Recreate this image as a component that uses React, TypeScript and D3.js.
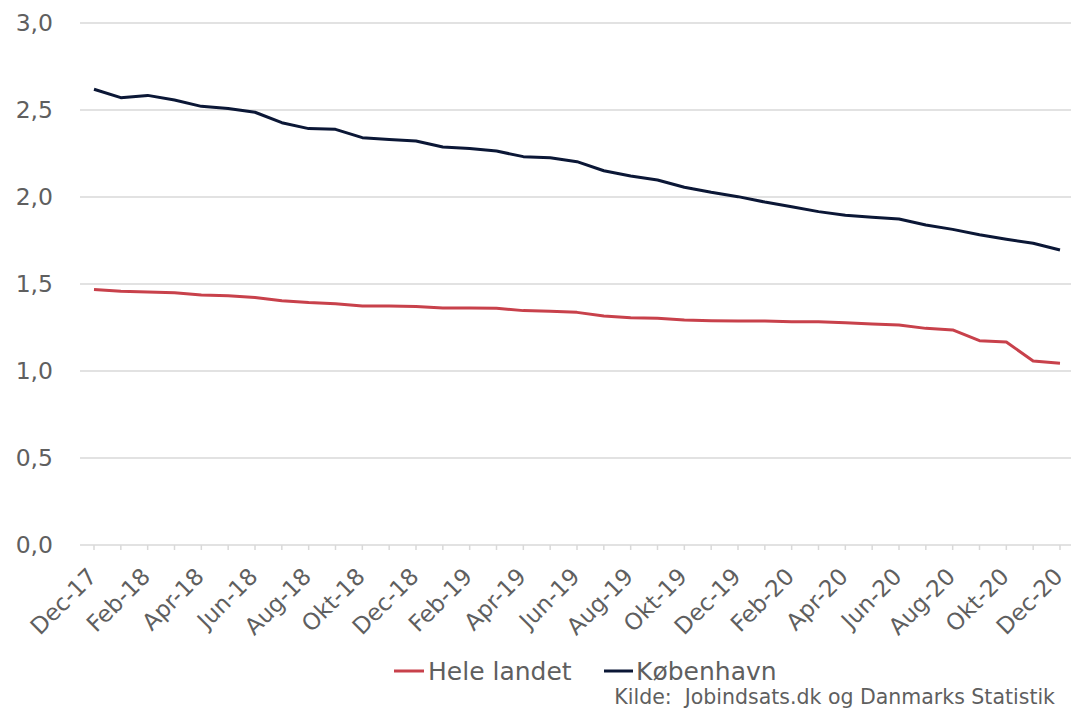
import * as d3 from 'd3';

const months = [
  'Dec-17', 'Jan-18', 'Feb-18', 'Mar-18', 'Apr-18', 'Maj-18', 'Jun-18', 'Jul-18', 'Aug-18', 'Sep-18', 'Okt-18', 'Nov-18',
  'Dec-18', 'Jan-19', 'Feb-19', 'Mar-19', 'Apr-19', 'Maj-19', 'Jun-19', 'Jul-19', 'Aug-19', 'Sep-19', 'Okt-19', 'Nov-19',
  'Dec-19', 'Jan-20', 'Feb-20', 'Mar-20', 'Apr-20', 'Maj-20', 'Jun-20', 'Jul-20', 'Aug-20', 'Sep-20', 'Okt-20', 'Nov-20',
  'Dec-20',
];

const heleLandet = [
  1.469, 1.458, 1.454, 1.45, 1.437, 1.433, 1.423, 1.404, 1.393, 1.387, 1.374, 1.374,
  1.37, 1.362, 1.362, 1.36, 1.347, 1.343, 1.337, 1.316, 1.306, 1.303, 1.293, 1.289,
  1.287, 1.287, 1.283, 1.283, 1.278, 1.27, 1.264, 1.245, 1.236, 1.174, 1.167, 1.057,
  1.044,
];

const koebenhavn = [
  2.619, 2.571, 2.584, 2.557, 2.521, 2.508, 2.487, 2.427, 2.393, 2.389, 2.341, 2.331,
  2.322, 2.287, 2.279, 2.264, 2.232, 2.226, 2.203, 2.151, 2.121, 2.098, 2.056, 2.027,
  2.002, 1.971, 1.944, 1.916, 1.895, 1.883, 1.874, 1.839, 1.814, 1.783, 1.757, 1.734,
  1.695,
];

const yTicks = [0, 0.5, 1, 1.5, 2, 2.5, 3];
const series = [
  { name: 'Hele landet', values: heleLandet, color: '#c8414b' },
  { name: 'København', values: koebenhavn, color: '#0b1736' },
];

const font = '"DejaVu Sans", sans-serif';
const textColor = '#5f5f5f';
const gridColor = '#d9d9d9';

export default function App() {
  const W = 1071;
  const H = 708;
  const plotLeft = 80;
  const plotRight = 1071;

  const x = d3.scalePoint<string>().domain(months).range([94, 1060]);
  const y = d3.scaleLinear().domain([0, 3]).range([545, 23]);

  const line = d3
    .line<number>()
    .x((_, i) => x(months[i])!)
    .y((d) => y(d));

  const fmt = (v: number) => d3.format('.1f')(v).replace('.', ',');

  return (
    <svg width={W} height={H} style={{ position: 'absolute', left: 0, top: 0 }} fontFamily={font}>
      <rect width={W} height={H} fill="#fff" />
      {/* grid + y labels */}
      {yTicks.map((t) => (
        <g key={t}>
          <line x1={plotLeft} x2={plotRight} y1={y(t)} y2={y(t)} stroke={gridColor} strokeWidth={1.5} />
          <text x={53} y={y(t)} dy="0.36em" textAnchor="end" fontSize={23.5} fill={textColor}>
            {fmt(t)}
          </text>
        </g>
      ))}
      {/* x ticks */}
      {months.map((m) => (
        <line key={m} x1={x(m)} x2={x(m)} y1={y(0)} y2={y(0) + 5} stroke={gridColor} strokeWidth={1.5} />
      ))}
      {months.map((m, i) =>
        i % 2 === 0 ? (
          <text
            key={m}
            transform={`translate(${x(m)! + 4}, ${y(0) + 33}) rotate(-45)`}
            textAnchor="end"
            fontSize={23}
            fill={textColor}
          >
            {m}
          </text>
        ) : null
      )}
      {/* lines */}
      {series.map((s) => (
        <path key={s.name} d={line(s.values)!} fill="none" stroke={s.color} strokeWidth={3} strokeLinejoin="round" />
      ))}
      {/* legend */}
      <g fontSize={25} fill={textColor}>
        <line x1={394} x2={424} y1={671} y2={671} stroke={series[0].color} strokeWidth={3} />
        <text x={428} y={671} dy="0.36em">{series[0].name}</text>
        <line x1={604} x2={633} y1={671} y2={671} stroke={series[1].color} strokeWidth={3} />
        <text x={636} y={671} dy="0.36em">{series[1].name}</text>
      </g>
      <text x={1055} y={704} textAnchor="end" fontSize={20.5} fill={textColor}>
        {'Kilde:\u00a0 Jobindsats.dk og Danmarks Statistik'}
      </text>
    </svg>
  );
}
